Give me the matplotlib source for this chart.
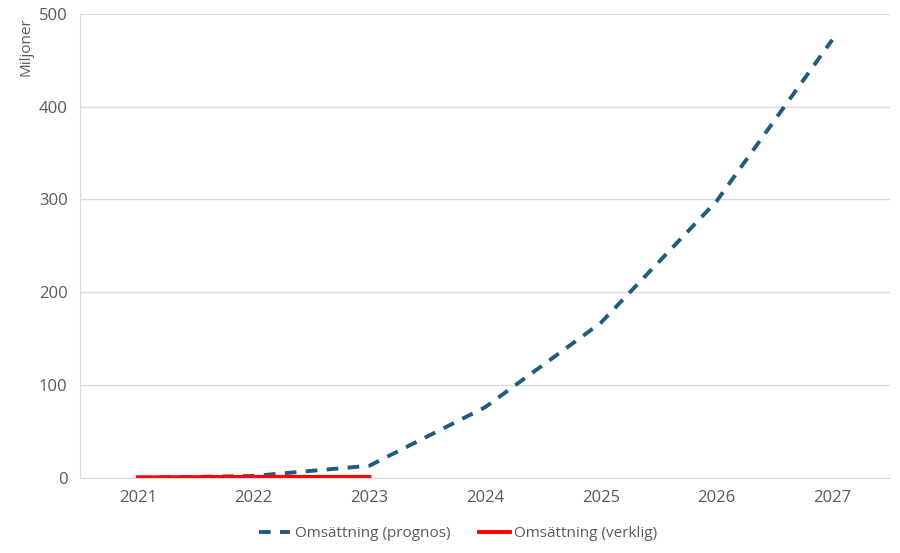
import matplotlib
matplotlib.use("Agg")
import matplotlib.pyplot as plt

years = ["2021", "2022", "2023", "2024", "2025", "2026", "2027"]
prognos = [0, 2, 13, 76, 167, 298, 472]
verklig_years = ["2021", "2022", "2023"]
verklig = [0.5, 1, 1]

plt.rcParams['font.family'] = ['Open Sans', 'DejaVu Sans']
txt = "#595959"
grid = "#d9d9d9"

fig = plt.figure(figsize=(9, 5.53), dpi=100)
ax = fig.add_axes([0.089, 0.136, 0.9, 0.839])

x = range(len(years))
ax.plot(x, prognos, color="#1f5c7c", lw=2.8, ls=(0, (3, 2.4)),
        label="Omsättning (prognos)")
ax.plot(range(len(verklig_years)), verklig, color="#ff0000", lw=2.8,
        label="Omsättning (verklig)")

ax.set_xlim(-0.5, len(years) - 0.5)
ax.set_ylim(0, 500)
ax.set_yticks(range(0, 501, 100))
ax.set_xticks(list(x))
ax.set_xticklabels(years)
ax.yaxis.grid(True, color=grid, lw=1)
ax.set_axisbelow(True)
for s in ["top", "right"]:
    ax.spines[s].set_visible(False)
ax.spines["left"].set_color(grid)
ax.spines["bottom"].set_color(grid)
ax.tick_params(length=0, colors=txt, labelsize=12, pad=9)
ax.set_ylabel("Miljoner", color=txt, fontsize=11)
ax.yaxis.set_label_coords(-0.057, 0.93)

ax.legend(loc="upper center", bbox_to_anchor=(0.467, -0.075), ncol=2,
          frameon=False, fontsize=11, labelcolor=txt, handlelength=2.0,
          handletextpad=0.3, columnspacing=1.9)

fig.savefig("out.png", dpi=100)
